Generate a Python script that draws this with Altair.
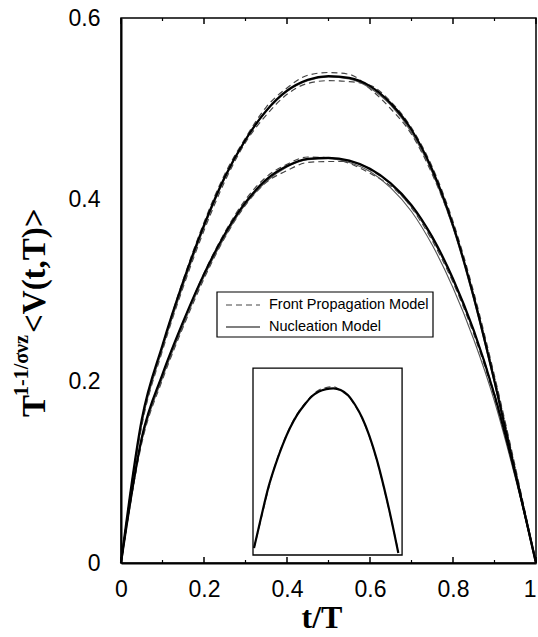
import altair as alt
import pandas as pd

# ---------------- data ----------------
T_GRID = [0, .05, .1, .15, .2, .25, .3, .35, .4, .45, .5, .55, .6, .65, .7, .75, .8, .85, .9, .95, 1]

# upper family (peak ~0.535)
UP_NUC_A = [0, .158, .240, .310, .372, .425, .466, .498, .520, .532, .536, .534, .525, .506, .477, .433, .372, .293, .200, .100, 0]
UP_NUC_B = [0, .153, .236, .306, .369, .423, .465, .497, .519, .531, .535, .533, .523, .504, .474, .430, .369, .290, .198, .098, 0]
UP_FP_A = [0, .156, .239, .312, .375, .428, .468, .502, .523, .537, .540, .538, .522, .500, .472, .428, .370, .294, .204, .104, 0]
UP_FP_B = [0, .151, .234, .304, .366, .420, .463, .493, .516, .528, .531, .530, .526, .508, .479, .436, .376, .298, .206, .106, 0]

# lower family (peak ~0.445)
LO_NUC_A = [0, .138, .208, .266, .318, .362, .397, .422, .437, .445, .446, .443, .434, .418, .394, .359, .313, .256, .185, .098, 0]
LO_NUC_B = [0, .134, .204, .262, .315, .359, .395, .420, .436, .444, .445, .441, .431, .413, .387, .350, .303, .246, .178, .094, 0]
LO_FP_A = [0, .136, .207, .265, .319, .364, .400, .425, .439, .447, .446, .440, .429, .415, .392, .357, .311, .255, .186, .100, 0]
LO_FP_B = [0, .132, .202, .260, .313, .358, .394, .419, .432, .441, .442, .442, .433, .417, .391, .355, .309, .252, .182, .096, 0]

# inset (normalised shape)
IN_NUC = [.03, .22, .40, .54, .66, .76, .84, .90, .95, .98, .995, 1.0, .99, .96, .90, .82, .71, .57, .40, .21, 0]
IN_FP = [.03, .21, .39, .545, .665, .765, .845, .905, .955, .99, 1.005, 1.01, .985, .955, .895, .815, .705, .565, .395, .205, .01]
INSET_FRAME_T = [-0.007, 1.026]
INSET_FRAME_V = [-0.012, 1.123]

X_TICKS_MAJOR = [0, 0.2, 0.4, 0.6, 0.8, 1.0]
X_TICKS_MINOR = [0.1, 0.3, 0.5, 0.7, 0.9]
Y_TICKS = [0, 0.2, 0.4, 0.6]

LEGEND_LABELS = ["Front Propagation Model", "Nucleation Model"]
X_TITLE = "t/T"
Y_TITLE_PARTS = ["T", "1-1/σνz", "<V(t,T)>"]

# ---------------- layout ----------------
W, H = 415, 545
PAD = {"left": 121, "top": 18, "right": 2, "bottom": 74}


def curves(pairs):
    frames = [pd.DataFrame({"t": T_GRID, "v": vals, "curve": name}) for name, vals in pairs]
    return pd.concat(frames, ignore_index=True)


xs = alt.Scale(domain=[0, 1], nice=False, zero=False)
ys = alt.Scale(domain=[0, 0.6], nice=False, zero=False)
x_axis = alt.Axis(values=X_TICKS_MAJOR, format="~g", ticks=False, grid=False, labelFlush=False,
                  labelAlign=alt.ExprRef(expr="datum.value >= 1 ? 'right' : 'center'"),
                  domainColor="black", domainWidth=2, labelFont="Liberation Sans",
                  labelFontSize=23, labelColor="black", labelPadding=15, title=None)
y_axis = alt.Axis(values=Y_TICKS, format="~g", ticks=False, grid=False, labelFlush=False,
                  domainColor="black", domainWidth=2, labelFont="Liberation Sans",
                  labelFontSize=23, labelColor="black", labelPadding=21, title=None)

X = alt.X("t:Q", scale=xs, axis=x_axis)
Y = alt.Y("v:Q", scale=ys, axis=y_axis)

nuc_df = curves([("upA", UP_NUC_A), ("loA", LO_NUC_A)])
nuc2_df = curves([("upB", UP_NUC_B), ("loB", LO_NUC_B)])
fp_df = curves([("upFA", UP_FP_A), ("upFB", UP_FP_B), ("loFA", LO_FP_A), ("loFB", LO_FP_B)])

fp_lines = alt.Chart(fp_df).mark_line(color="#444444", strokeWidth=1.2, strokeDash=[6, 4],
                                       interpolate="monotone").encode(x=X, y=Y, detail="curve:N")
nuc2_lines = alt.Chart(nuc2_df).mark_line(color="#555555", strokeWidth=1.1,
                                           interpolate="monotone").encode(x=X, y=Y, detail="curve:N")
nuc_lines = alt.Chart(nuc_df).mark_line(color="black", strokeWidth=2.2,
                                         interpolate="monotone").encode(x=X, y=Y, detail="curve:N")

# inward ticks on top and bottom
maj = pd.DataFrame({"t": X_TICKS_MAJOR})
mnr = pd.DataFrame({"t": X_TICKS_MINOR})
tick_layers = [
    alt.Chart(maj).mark_rule(color="black", strokeWidth=1.5).encode(x=X, y=alt.value(H), y2=alt.value(H - 6)),
    alt.Chart(mnr).mark_rule(color="black", strokeWidth=1.2).encode(x=X, y=alt.value(H), y2=alt.value(H - 3)),
    alt.Chart(maj).mark_rule(color="black", strokeWidth=1.5).encode(x=X, y=alt.value(0), y2=alt.value(6)),
    alt.Chart(mnr).mark_rule(color="black", strokeWidth=1.2).encode(x=X, y=alt.value(0), y2=alt.value(3)),
]

# titles
x_title = alt.Chart(pd.DataFrame({"s": [X_TITLE]})).mark_text(
    font="Liberation Serif", fontWeight="bold", fontSize=32, align="center", baseline="alphabetic",
    color="black").encode(text="s:N", x=alt.value(201), y=alt.value(610))

yt_main = alt.Chart(pd.DataFrame({"s": [Y_TITLE_PARTS[0]]})).mark_text(
    font="Liberation Serif", fontWeight="bold", fontSize=33, angle=270, align="left",
    baseline="alphabetic", color="black").encode(text="s:N", x=alt.value(-76), y=alt.value(399))
yt_sup = alt.Chart(pd.DataFrame({"s": [Y_TITLE_PARTS[1]]})).mark_text(
    font="Liberation Serif", fontWeight="bold", fontSize=20, angle=270, align="left",
    baseline="alphabetic", color="black").encode(text="s:N", x=alt.value(-93), y=alt.value(378))
yt_rest = alt.Chart(pd.DataFrame({"s": [Y_TITLE_PARTS[2]]})).mark_text(
    font="Liberation Serif", fontWeight="bold", fontSize=33, angle=270, align="left",
    baseline="alphabetic", color="black").encode(text="s:N", x=alt.value(-76), y=alt.value(315))

# manual legend
leg_box = alt.Chart(pd.DataFrame({"k": [0]})).mark_rect(
    fill="white", stroke="black", strokeWidth=1.2).encode(
    x=alt.value(96), x2=alt.value(312), y=alt.value(274), y2=alt.value(319))
leg_dash = alt.Chart(pd.DataFrame({"k": [0]})).mark_rule(
    color="#444444", strokeWidth=1.1, strokeDash=[6, 4]).encode(
    x=alt.value(105), x2=alt.value(139), y=alt.value(287))
leg_solid = alt.Chart(pd.DataFrame({"k": [0]})).mark_rule(
    color="black", strokeWidth=1.1).encode(
    x=alt.value(105), x2=alt.value(139), y=alt.value(309))
leg_t1 = alt.Chart(pd.DataFrame({"s": [LEGEND_LABELS[0]]})).mark_text(
    font="Liberation Sans", fontSize=14.5, align="left", baseline="middle", color="black").encode(
    text="s:N", x=alt.value(148), y=alt.value(287))
leg_t2 = alt.Chart(pd.DataFrame({"s": [LEGEND_LABELS[1]]})).mark_text(
    font="Liberation Sans", fontSize=14.5, align="left", baseline="middle", color="black").encode(
    text="s:N", x=alt.value(148), y=alt.value(309))

main = alt.layer(fp_lines, nuc2_lines, nuc_lines, *tick_layers, x_title, yt_main, yt_sup, yt_rest,
                 leg_box, leg_dash, leg_solid, leg_t1, leg_t2)

# inset with its own scales
ixs = alt.Scale(domain=[-0.9217, 1.954], nice=False, zero=False)
iys = alt.Scale(domain=[-0.0607, 3.2484], nice=False, zero=False)
IX = alt.X("t:Q", scale=ixs, axis=None)
IY = alt.Y("v:Q", scale=iys, axis=None)

frame_df = pd.DataFrame({"t": [INSET_FRAME_T[0]], "t2": [INSET_FRAME_T[1]],
                         "v": [INSET_FRAME_V[0]], "v2": [INSET_FRAME_V[1]]})
inset_frame = alt.Chart(frame_df).mark_rect(fill="transparent", stroke="black", strokeWidth=1.3).encode(
    x=IX, x2="t2:Q", y=IY, y2="v2:Q")
inset_fp = alt.Chart(curves([("iF", IN_FP)])).mark_line(
    color="#444444", strokeWidth=1.2, strokeDash=[6, 4], interpolate="monotone").encode(x=IX, y=IY)
inset_nuc = alt.Chart(curves([("iN", IN_NUC)])).mark_line(
    color="black", strokeWidth=2.2, interpolate="monotone").encode(x=IX, y=IY)
inset = alt.layer(inset_frame, inset_fp, inset_nuc)

chart = alt.layer(main, inset).resolve_scale(x="independent", y="independent").properties(
    width=W, height=H, padding=PAD, autosize=alt.AutoSizeParams(type="none"), background="white"
).configure_view(stroke="black", strokeWidth=1.5)

chart.save("out.html", embed_options={"renderer": "svg", "actions": False})
